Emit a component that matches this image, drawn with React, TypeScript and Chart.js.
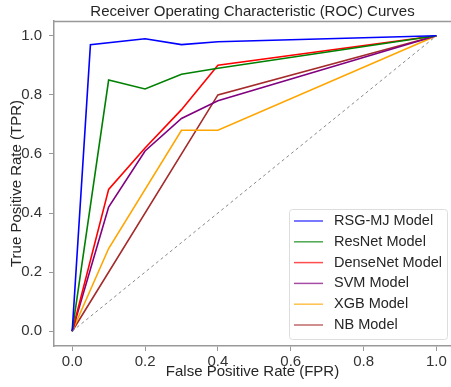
import React, { useEffect, useRef } from "react";
import { Chart, registerables } from "chart.js";

Chart.register(...registerables);

const seriesNames = ["RSG-MJ Model", "ResNet Model", "DenseNet Model", "SVM Model", "XGB Model", "NB Model"];
const seriesColors = ["#0000ff", "#008000", "#ff0000", "#800080", "#ffa500", "#a52a2a"];
const rsgFpr = [0, 0.05, 0.2, 0.3, 0.4, 1];
const rsgTpr = [0, 0.97, 0.99, 0.97, 0.98, 1];
const resFpr = [0, 0.1, 0.2, 0.3, 0.4, 1];
const resTpr = [0, 0.85, 0.82, 0.87, 0.89, 1];
const denseFpr = [0, 0.1, 0.2, 0.3, 0.4, 1];
const denseTpr = [0, 0.48, 0.62, 0.75, 0.9, 1];
const svmFpr = [0, 0.1, 0.2, 0.3, 0.4, 1];
const svmTpr = [0, 0.42, 0.61, 0.72, 0.78, 1];
const xgbFpr = [0, 0.1, 0.3, 0.4, 1];
const xgbTpr = [0, 0.28, 0.68, 0.68, 1];
const nbFpr = [0, 0.4, 1];
const nbTpr = [0, 0.8, 1];
const diagFpr = [0, 1];
const diagTpr = [0, 1];
const tickValues = [0, 0.2, 0.4, 0.6, 0.8, 1.0];

const FONT = "'Liberation Sans', Arial, sans-serif";

function pts(xs: number[], ys: number[]) {
  return xs.map((x, i) => ({ x, y: ys[i] }));
}

const frameAndLegend = {
  id: "frameAndLegend",
  afterDraw(chart: any) {
    const { ctx, chartArea } = chart;
    ctx.save();
    // top spine
    ctx.strokeStyle = "#999999";
    ctx.lineWidth = 1.5;
    ctx.beginPath();
    ctx.moveTo(chartArea.left, chartArea.top + 0.5);
    ctx.lineTo(chartArea.right, chartArea.top + 0.5);
    ctx.stroke();
    // title
    ctx.fillStyle = "#262626";
    ctx.font = `15px ${FONT}`;
    ctx.textAlign = "center";
    ctx.textBaseline = "middle";
    ctx.fillText("Receiver Operating Characteristic (ROC) Curves", (chartArea.left + chartArea.right) / 2, 12);
    // legend
    const bx = 289, by = 209, bw = 158, bh = 130;
    ctx.fillStyle = "rgba(255,255,255,0.85)";
    ctx.strokeStyle = "#dddddd";
    ctx.lineWidth = 1;
    ctx.beginPath();
    (ctx as any).roundRect(bx + 0.5, by + 0.5, bw, bh, 3);
    ctx.fill();
    ctx.stroke();
    ctx.font = `14.5px ${FONT}`;
    ctx.textAlign = "left";
    seriesNames.forEach((name, i) => {
      const y = 221 + i * 20.8;
      ctx.strokeStyle = seriesColors[i];
      ctx.globalAlpha = 0.7;
      ctx.lineWidth = 1.5;
      ctx.beginPath();
      ctx.moveTo(294, y);
      ctx.lineTo(323, y);
      ctx.stroke();
      ctx.globalAlpha = 1;
      ctx.fillStyle = "#262626";
      ctx.fillText(name, 334, y);
    });
    ctx.restore();
  },
};

export default function App() {
  const ref = useRef<HTMLCanvasElement | null>(null);
  useEffect(() => {
    document.body.style.margin = "0";
    const canvas = ref.current!;
    const lists: [number[], number[]][] = [
      [rsgFpr, rsgTpr],
      [resFpr, resTpr],
      [denseFpr, denseTpr],
      [svmFpr, svmTpr],
      [xgbFpr, xgbTpr],
      [nbFpr, nbTpr],
    ];
    const datasets: any[] = [
      {
        label: "Random",
        data: pts(diagFpr, diagTpr),
        borderColor: "#888888",
        borderWidth: 1,
        borderDash: [3, 3],
        pointRadius: 0,
        fill: false,
      },
      ...lists.map(([xs, ys], i) => ({
        label: seriesNames[i],
        data: pts(xs, ys),
        borderColor: seriesColors[i],
        borderWidth: 1.6,
        pointRadius: 0,
        fill: false,
        tension: 0,
      })),
    ];
    const tickFont = { family: FONT, size: 15 };
    const chart = new Chart(canvas, {
      type: "line",
      data: { datasets },
      plugins: [frameAndLegend],
      options: {
        animation: false,
        responsive: false,
        devicePixelRatio: 1,
        layout: { padding: { top: 21, left: 0, right: 0, bottom: 0 } },
        plugins: { legend: { display: false }, title: { display: false }, tooltip: { enabled: false } },
        scales: {
          x: {
            type: "linear",
            min: -0.05,
            max: 1.04,
            afterFit: (s: any) => { s.height = 41; },
            afterBuildTicks: (s: any) => { s.ticks = tickValues.map((v) => ({ value: v })); },
            ticks: { font: tickFont, color: "#333333", padding: 2, callback: (v: any) => Number(v).toFixed(1), maxRotation: 0, autoSkip: false },
            grid: { drawOnChartArea: false, drawTicks: true, tickLength: 5, color: "#999999", lineWidth: 1 },
            border: { color: "#999999", width: 1.5 },
            title: { display: true, text: "False Positive Rate (FPR)", font: { family: FONT, size: 15 }, color: "#262626", padding: { top: 0, bottom: 6 } },
          },
          y: {
            type: "linear",
            min: -0.05,
            max: 1.05,
            afterFit: (s: any) => { s.width = 54; },
            afterBuildTicks: (s: any) => { s.ticks = tickValues.map((v) => ({ value: v })); },
            ticks: { font: tickFont, color: "#333333", padding: 7, callback: (v: any) => Number(v).toFixed(1), autoSkip: false },
            grid: { drawOnChartArea: false, drawTicks: true, tickLength: 5, color: "#999999", lineWidth: 1 },
            border: { color: "#999999", width: 1.5 },
            title: { display: true, text: "True Positive Rate (TPR)", font: { family: FONT, size: 15 }, color: "#262626", padding: { top: 8, bottom: 0 } },
          },
        },
      } as any,
    });
    return () => chart.destroy();
  }, []);
  return (
    <div style={{ position: "absolute", left: 0, top: 0, width: 451, height: 387, background: "#fff" }}>
      <canvas ref={ref} width={451} height={387} style={{ width: 451, height: 387, display: "block" }} />
    </div>
  );
}
